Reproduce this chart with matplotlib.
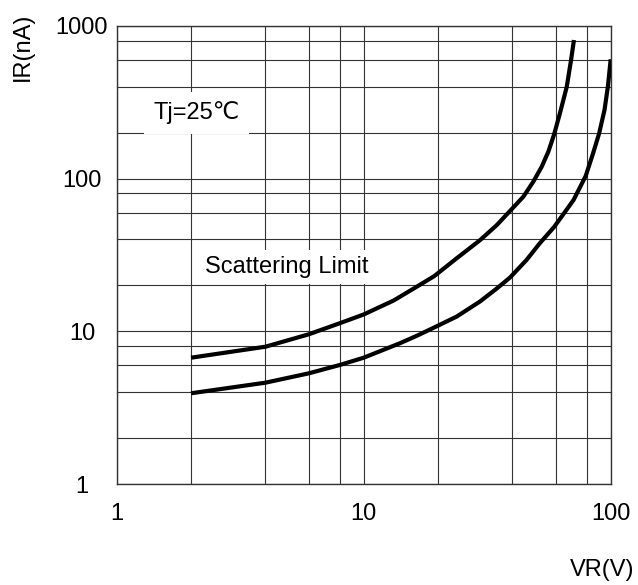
import matplotlib
matplotlib.use("Agg")
import matplotlib.pyplot as plt
from matplotlib.ticker import FixedLocator, NullFormatter

plt.rcParams['font.family'] = ['Liberation Sans', 'DejaVu Sans']

# верхняя кривая (Scattering Limit, max)
vr_upper = [2, 4, 6, 8, 10, 13.2, 16.4, 19.3, 23.8, 29.6, 34.6, 39.1, 44.3, 48.6,
            52.6, 55.9, 58.9, 62.3, 66.4, 69.1, 71.0]
ir_upper = [6.72, 7.93, 9.57, 11.3, 12.9, 15.9, 19.6, 23.0, 30.1, 39.6, 49.7, 61.4, 76.2, 95.5,
            120, 150, 193, 268, 400, 598, 809]
# нижняя кривая
vr_lower = [2, 4, 6, 8, 10, 14.0, 16.4, 19.3, 23.8, 29.6, 34.6, 39.1, 45.6, 51.6, 59.1,
            70.7, 79.2, 84.9, 89.8, 94.4, 97.4, 100]
ir_lower = [3.93, 4.61, 5.31, 6.02, 6.72, 8.35, 9.35, 10.6, 12.5, 15.7, 19.1, 22.5, 29.3, 37.7, 48.4,
            72.4, 104, 147, 198, 282, 400, 605]

x_major = [1, 10, 100]
x_minor = [2, 4, 6, 8, 20, 40, 60, 80]
y_major = [1, 10, 100, 1000]
y_minor = [2, 4, 6, 8, 20, 40, 60, 80, 200, 400, 600, 800]

fig = plt.figure(figsize=(6.38, 5.85), dpi=100)
ax = fig.add_axes([0.1829, 0.1726, 0.7743, 0.7830])

ax.plot(vr_upper, ir_upper, color='black', lw=3, solid_capstyle='butt', zorder=4)
ax.plot(vr_lower, ir_lower, color='black', lw=3, solid_capstyle='butt', zorder=4)

ax.set_xscale('log')
ax.set_yscale('log')
ax.set_xlim(1, 100)
ax.set_ylim(1, 1000)

ax.xaxis.set_major_locator(FixedLocator(x_major))
ax.xaxis.set_minor_locator(FixedLocator(x_minor))
ax.yaxis.set_major_locator(FixedLocator(y_major))
ax.yaxis.set_minor_locator(FixedLocator(y_minor))
ax.xaxis.set_minor_formatter(NullFormatter())
ax.yaxis.set_minor_formatter(NullFormatter())
ax.set_xticklabels([str(v) for v in x_major])
ax.set_yticklabels([str(v) for v in y_major])

ax.grid(True, which='both', color='#333333', lw=0.8)
ax.set_axisbelow(True)
ax.tick_params(which='both', length=0, labelsize=17, colors='black')
ax.tick_params(axis='x', pad=13.5)
ax.tick_params(axis='y', pad=25)
for lab in ax.get_yticklabels():
    lab.set_horizontalalignment('center')
for sp in ax.spines.values():
    sp.set_color('#333333')
    sp.set_linewidth(1.0)

# подписи на графике
ax.annotate('Tj=25℃', xy=(153 / 638, 1 - 113 / 585), xycoords='figure fraction',
            fontsize=17, va='center', ha='left', zorder=3,
            bbox=dict(boxstyle='square,pad=0.4', fc='white', ec='none'))
ax.annotate('Scattering Limit', xy=(205 / 638, 1 - 267 / 585), xycoords='figure fraction',
            fontsize=17, va='center', ha='left', zorder=3,
            bbox=dict(boxstyle='square,pad=0.25', fc='white', ec='none'))

fig.text(23 / 638, 1 - 47 / 585, 'IR(nA)', rotation=90, fontsize=17, ha='center', va='center')
fig.text(602 / 638, 1 - 570 / 585, 'VR(V)', fontsize=17, ha='center', va='center')

fig.savefig('out.png', dpi=100)
